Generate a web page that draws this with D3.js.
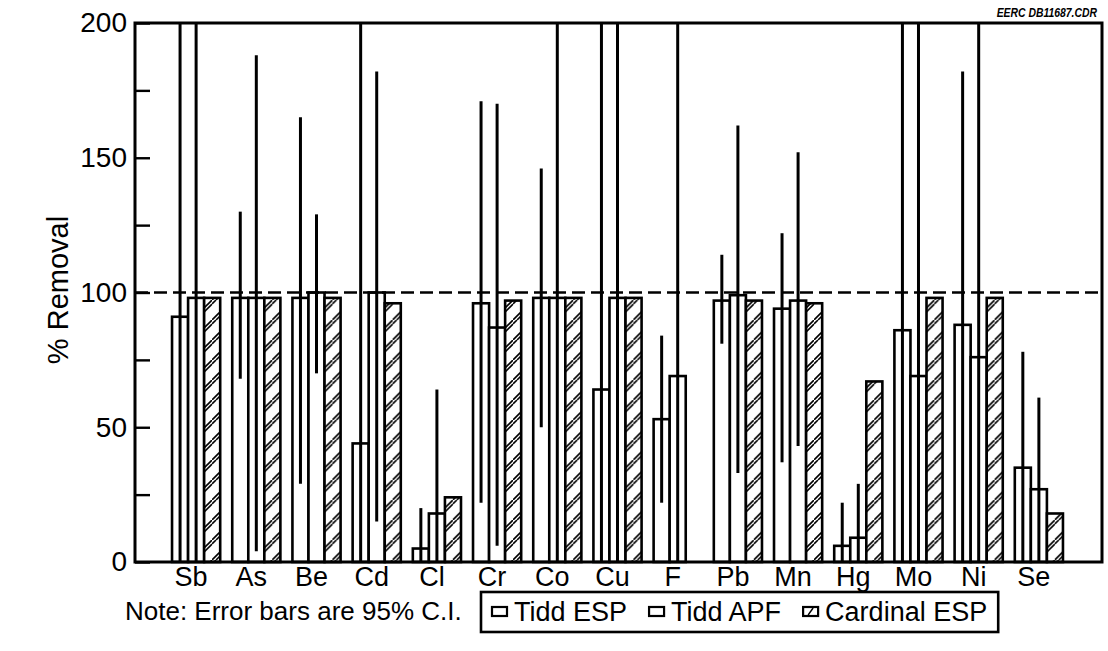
<!DOCTYPE html>
<html>
<head>
<meta charset="utf-8">
<script src="https://cdn.jsdelivr.net/npm/d3@7"></script>
<style>
  body { margin: 0; background: #fff; }
  text { font-family: "Liberation Sans", Arial, Helvetica, sans-serif; fill: #000; }
</style>
</head>
<body>
<div id="chart"></div>
<script>
// Data (% removal per element)
const categories = ['Sb', 'As', 'Be', 'Cd', 'Cl', 'Cr', 'Co', 'Cu', 'F', 'Pb', 'Mn', 'Hg', 'Mo', 'Ni', 'Se'];
const seriesNames = ['Tidd ESP', 'Tidd APF', 'Cardinal ESP'];

const tiddEsp     = [91, 98, 98, 44, 5, 96, 98, 64, 53, 97, 94, 6, 86, 88, 35];
const tiddApf     = [98, 98, 100, 100, 18, 87, 98, 98, 69, 99, 97, 9, 69, 76, 27];
const cardinalEsp = [98, 98, 98, 96, 24, 97, 98, 98, null, 97, 96, 67, 98, 98, 18];

// 95% C.I. bounds (upper bounds of 200 run off the top of the chart)
const tiddEspLow  = [0, 68, 29, 0, 0, 22, 50, 0, 22, 81, 37, 0, 0, 0, 0];
const tiddEspHigh = [200, 130, 165, 200, 20, 171, 146, 200, 84, 114, 122, 22, 200, 182, 78];
const tiddApfLow  = [0, 4, 70, 15, 0, 6, 0, 0, 0, 33, 43, 0, 0, 0, 0];
const tiddApfHigh = [200, 188, 129, 182, 64, 170, 200, 200, 200, 162, 152, 29, 200, 200, 61];

const yTicks = [0, 50, 100, 150, 200];
const yMinorTicks = [25, 75, 125, 175];
const referenceLine = 100;

const width = 1108, height = 651;
const frame = { left: 135, right: 1102, top: 23, bottom: 562 };

const svg = d3.select('#chart').append('svg')
    .attr('width', width)
    .attr('height', height);

const defs = svg.append('defs');

// hatch for Cardinal ESP: pairs of "/" strokes
const hatch = defs.append('pattern')
    .attr('id', 'hatch')
    .attr('patternUnits', 'userSpaceOnUse')
    .attr('width', 20)
    .attr('height', 20);
hatch.append('rect').attr('width', 20).attr('height', 20).attr('fill', '#fff');
[[0, 20, 20, 0], [4, 20, 20, 4], [0, 4, 4, 0]].forEach(d => {
    hatch.append('line')
        .attr('x1', d[0]).attr('y1', d[1])
        .attr('x2', d[2]).attr('y2', d[3])
        .attr('stroke', '#000')
        .attr('stroke-width', 1.6);
});

defs.append('clipPath').attr('id', 'plot-clip')
    .append('rect')
    .attr('x', frame.left)
    .attr('y', frame.top)
    .attr('width', frame.right - frame.left)
    .attr('height', frame.bottom - frame.top);

// scales
const y = d3.scaleLinear().domain([0, 200]).range([frame.bottom, frame.top]);

const x0 = d3.scaleBand()
    .domain(categories)
    .range([160, 1075])
    .paddingInner(0.2)
    .paddingOuter(0.2);

const x1 = d3.scaleBand()
    .domain(seriesNames)
    .range([0, x0.bandwidth()]);

// rows for drawing
const rows = categories.map((cat, i) => ({
    cat: cat,
    values: [
        { key: 'Tidd ESP', v: tiddEsp[i], lo: tiddEspLow[i], hi: tiddEspHigh[i] },
        { key: 'Tidd APF', v: tiddApf[i], lo: tiddApfLow[i], hi: tiddApfHigh[i] },
        { key: 'Cardinal ESP', v: cardinalEsp[i], lo: null, hi: null }
    ].filter(d => d.v !== null)
}));

// bars
const groups = svg.append('g').attr('class', 'bars')
    .selectAll('g')
    .data(rows)
    .join('g')
    .attr('transform', d => `translate(${x0(d.cat)},0)`);

groups.selectAll('rect')
    .data(d => d.values)
    .join('rect')
    .attr('x', d => x1(d.key))
    .attr('y', d => y(d.v))
    .attr('width', x1.bandwidth())
    .attr('height', d => y(0) - y(d.v))
    .attr('fill', d => d.key === 'Cardinal ESP' ? 'url(#hatch)' : '#fff')
    .attr('stroke', '#000')
    .attr('stroke-width', 2.6);

// error bars
const errGroup = svg.append('g').attr('clip-path', 'url(#plot-clip)');
rows.forEach(r => {
    r.values.filter(d => d.lo !== null).forEach(d => {
        const cx = x0(r.cat) + x1(d.key) + x1.bandwidth() / 2;
        errGroup.append('line')
            .attr('x1', cx).attr('x2', cx)
            .attr('y1', y(d.lo)).attr('y2', y(d.hi))
            .attr('stroke', '#000')
            .attr('stroke-width', 3);
    });
});

// dashed 100% line
svg.append('line')
    .attr('x1', frame.left).attr('x2', frame.right)
    .attr('y1', y(referenceLine)).attr('y2', y(referenceLine))
    .attr('stroke', '#000')
    .attr('stroke-width', 2.6)
    .attr('stroke-dasharray', '13,6');

// frame
svg.append('rect')
    .attr('x', frame.left)
    .attr('y', frame.top)
    .attr('width', frame.right - frame.left)
    .attr('height', frame.bottom - frame.top)
    .attr('fill', 'none')
    .attr('stroke', '#000')
    .attr('stroke-width', 3);

// y axis, ticks pointing inward
const yAxis = svg.append('g')
    .attr('transform', `translate(${frame.left},0)`)
    .call(d3.axisLeft(y).tickValues(yTicks).tickSize(-15).tickPadding(8).tickFormat(d3.format('d')));
yAxis.select('.domain').remove();
yAxis.selectAll('line').attr('stroke-width', 2.4);
yAxis.selectAll('text').attr('font-size', 28).attr('font-family', null);

const yMinor = svg.append('g')
    .attr('transform', `translate(${frame.left},0)`)
    .call(d3.axisLeft(y).tickValues(yMinorTicks).tickSize(-15).tickFormat(''));
yMinor.select('.domain').remove();
yMinor.selectAll('line').attr('stroke-width', 2.4);

// x axis labels
const xAxis = svg.append('g')
    .attr('transform', `translate(0,${frame.bottom})`)
    .call(d3.axisBottom(x0).tickSize(0).tickPadding(5));
xAxis.select('.domain').remove();
xAxis.selectAll('text')
    .attr('font-size', 27)
    .attr('font-family', null)
    .attr('dx', -5);

// y title
svg.append('text')
    .attr('transform', `translate(68,290) rotate(-90)`)
    .attr('text-anchor', 'middle')
    .attr('font-size', 29)
    .text('% Removal');

// file tag at top right (condensed via horizontal scale)
svg.append('text')
    .attr('transform', 'translate(1097,17) scale(0.8,1)')
    .attr('text-anchor', 'end')
    .attr('font-size', 13)
    .attr('font-weight', 'bold')
    .attr('font-style', 'italic')
    .text('EERC DB11687.CDR');

// note
svg.append('text')
    .attr('x', 125)
    .attr('y', 620)
    .attr('font-size', 26)
    .text('Note:  Error bars are 95% C.I.');

// legend
const legend = svg.append('g');
const legendBox = { x: 481, y: 592, h: 40 };
let lx = legendBox.x + 11;
seriesNames.forEach(name => {
    legend.append('rect')
        .attr('x', lx)
        .attr('y', legendBox.y + 15)
        .attr('width', 15)
        .attr('height', 9)
        .attr('fill', '#fff')
        .attr('stroke', '#000')
        .attr('stroke-width', 2.2);
    if (name === 'Cardinal ESP') {
        legend.append('line')
            .attr('x1', lx + 5).attr('y1', legendBox.y + 23)
            .attr('x2', lx + 10).attr('y2', legendBox.y + 16)
            .attr('stroke', '#000')
            .attr('stroke-width', 1.4);
    }
    const t = legend.append('text')
        .attr('x', lx + 22)
        .attr('y', legendBox.y + 29)
        .attr('font-size', 27)
        .text(name);
    lx += 22 + t.node().getComputedTextLength() + 22;
});
legend.insert('rect', ':first-child')
    .attr('x', legendBox.x)
    .attr('y', legendBox.y)
    .attr('width', lx - legendBox.x - 11)
    .attr('height', legendBox.h)
    .attr('fill', '#fff')
    .attr('stroke', '#000')
    .attr('stroke-width', 2.6);
</script>
</body>
</html>
